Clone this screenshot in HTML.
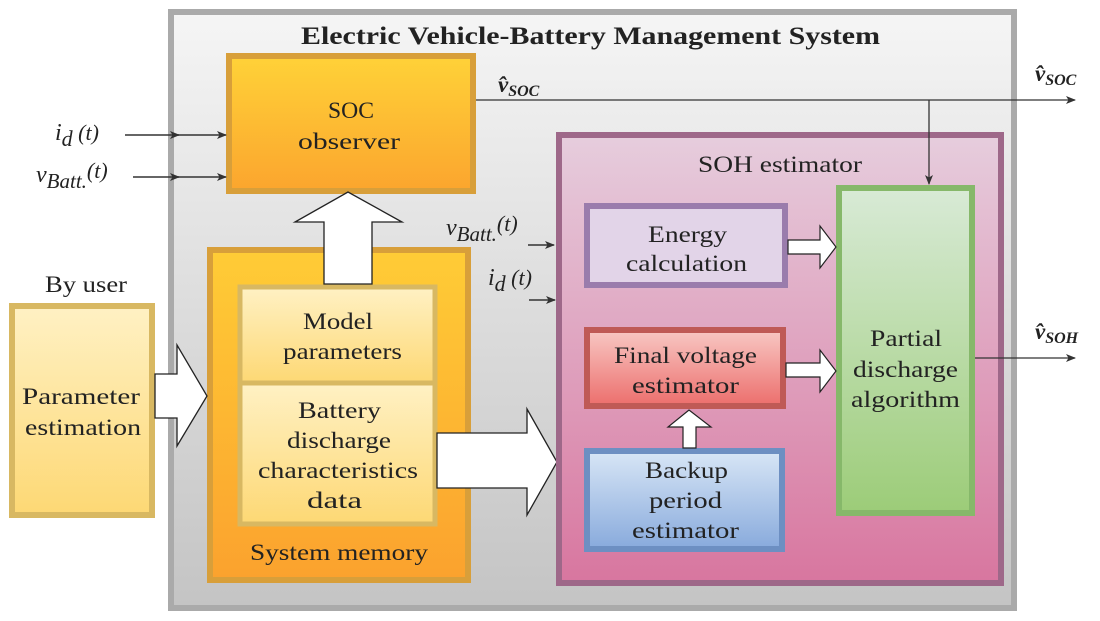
<!DOCTYPE html>
<html><head><meta charset="utf-8"><style>
html,body{margin:0;padding:0;background:#fff;}
svg{display:block;font-family:"Liberation Serif",serif;}
</style></head><body>
<svg width="1100" height="621" viewBox="0 0 1100 621" xmlns="http://www.w3.org/2000/svg">
<defs>
<linearGradient id="gOut" x1="0" y1="0" x2="0" y2="1"><stop offset="0" stop-color="#f5f5f5"/><stop offset="1" stop-color="#c4c4c4"/></linearGradient>
<linearGradient id="gSoc" x1="0" y1="0" x2="0" y2="1"><stop offset="0" stop-color="#ffd238"/><stop offset="1" stop-color="#fba52e"/></linearGradient>
<linearGradient id="gMem" x1="0" y1="0" x2="0" y2="1"><stop offset="0" stop-color="#ffcc36"/><stop offset="1" stop-color="#fba22e"/></linearGradient>
<linearGradient id="gPale" x1="0" y1="0" x2="0" y2="1"><stop offset="0" stop-color="#fff1c4"/><stop offset="1" stop-color="#fdd874"/></linearGradient>
<linearGradient id="gSoh" x1="0" y1="0" x2="0" y2="1"><stop offset="0" stop-color="#e6cddd"/><stop offset="1" stop-color="#d8769f"/></linearGradient>
<linearGradient id="gRed" x1="0" y1="0" x2="0" y2="1"><stop offset="0" stop-color="#f8c8c4"/><stop offset="1" stop-color="#ec6e6c"/></linearGradient>
<linearGradient id="gBlue" x1="0" y1="0" x2="0" y2="1"><stop offset="0" stop-color="#d8e6f6"/><stop offset="1" stop-color="#88aadc"/></linearGradient>
<linearGradient id="gGreen" x1="0" y1="0" x2="0" y2="1"><stop offset="0" stop-color="#d8ead6"/><stop offset="1" stop-color="#9ccc78"/></linearGradient>
<marker id="ah" markerWidth="10" markerHeight="8" refX="9" refY="4" orient="auto" markerUnits="userSpaceOnUse"><path d="M0,0 L10,4 L0,8 L2.5,4 z" fill="#333"/></marker>
</defs>

<g font-size="23" fill="#222" lengthAdjust="spacingAndGlyphs">
<!-- outer -->
<rect x="171" y="12" width="843" height="596" fill="url(#gOut)" stroke="#aaa" stroke-width="6"/>
<text x="301" y="44" font-size="25" font-weight="bold" textLength="579" lengthAdjust="spacingAndGlyphs">Electric Vehicle-Battery Management System</text>

<!-- SOC observer -->
<rect x="229" y="56" width="244" height="135" fill="url(#gSoc)" stroke="#d89f3a" stroke-width="6"/>
<text x="328" y="118" textLength="46" lengthAdjust="spacingAndGlyphs">SOC</text>
<text x="298" y="149" textLength="102" lengthAdjust="spacingAndGlyphs">observer</text>

<!-- inputs -->
<text x="55" y="140" font-size="24" font-style="italic">i<tspan font-size="22" dy="6">d</tspan><tspan dy="-6" font-size="22"> (t)</tspan></text>
<line x1="125" y1="135" x2="179" y2="135" stroke="#333" stroke-width="1.5" marker-end="url(#ah)"/>
<line x1="172" y1="135" x2="226" y2="135" stroke="#333" stroke-width="1.5" marker-end="url(#ah)"/>
<text x="36" y="182" font-size="24" font-style="italic">v<tspan font-size="21" dy="6">Batt.</tspan><tspan dy="-10" font-size="22">(t)</tspan></text>
<line x1="133" y1="177" x2="179" y2="177" stroke="#333" stroke-width="1.5" marker-end="url(#ah)"/>
<line x1="172" y1="177" x2="226" y2="177" stroke="#333" stroke-width="1.5" marker-end="url(#ah)"/>

<!-- System memory -->
<rect x="210" y="250" width="258" height="330" fill="url(#gMem)" stroke="#d89f3a" stroke-width="6"/>
<rect x="240" y="287" width="195" height="96" fill="url(#gPale)" stroke="#d8b862" stroke-width="5"/>
<text x="303" y="329" textLength="70" lengthAdjust="spacingAndGlyphs">Model</text>
<text x="283" y="359" textLength="119" lengthAdjust="spacingAndGlyphs">parameters</text>
<rect x="240" y="383" width="195" height="141" fill="url(#gPale)" stroke="#d8b862" stroke-width="5"/>
<text x="298" y="418" textLength="83" lengthAdjust="spacingAndGlyphs">Battery</text>
<text x="287" y="448" textLength="104" lengthAdjust="spacingAndGlyphs">discharge</text>
<text x="258" y="478" textLength="160" lengthAdjust="spacingAndGlyphs">characteristics</text>
<text x="307" y="508" textLength="55" lengthAdjust="spacingAndGlyphs">data</text>
<text x="250" y="560" textLength="178" lengthAdjust="spacingAndGlyphs">System memory</text>

<!-- up arrow memory -> SOC -->
<path d="M324,284 L324,222 L295,222 L348,192 L402,222 L372,222 L372,284 Z" fill="#fff" stroke="#222" stroke-width="1.3"/>

<!-- By user / parameter estimation -->
<text x="45" y="292" textLength="82" lengthAdjust="spacingAndGlyphs">By user</text>
<rect x="12" y="306" width="140" height="209" fill="url(#gPale)" stroke="#d8b862" stroke-width="6"/>
<text x="22" y="404" textLength="118" lengthAdjust="spacingAndGlyphs">Parameter</text>
<text x="25" y="435" textLength="116" lengthAdjust="spacingAndGlyphs">estimation</text>
<path d="M155,374 L177,374 L177,345 L207,396 L177,446 L177,418 L155,418 Z" fill="#fff" stroke="#222" stroke-width="1.3"/>

<!-- memory -> SOH arrow -->
<path d="M437,433 L527,433 L527,409 L557,462 L527,515 L527,488 L437,488 Z" fill="#fff" stroke="#222" stroke-width="1.3"/>

<!-- SOH estimator -->
<rect x="559" y="135" width="442" height="448" fill="url(#gSoh)" stroke="#9e6889" stroke-width="6"/>
<text x="698" y="172" textLength="164" lengthAdjust="spacingAndGlyphs">SOH estimator</text>
<text x="446" y="235" font-size="24" font-style="italic">v<tspan font-size="21" dy="6">Batt.</tspan><tspan dy="-10" font-size="22">(t)</tspan></text>
<line x1="528" y1="245" x2="554" y2="245" stroke="#333" stroke-width="1.5" marker-end="url(#ah)"/>
<text x="488" y="285" font-size="24" font-style="italic">i<tspan font-size="22" dy="6">d</tspan><tspan dy="-6" font-size="22"> (t)</tspan></text>
<line x1="529" y1="300" x2="555" y2="300" stroke="#333" stroke-width="1.5" marker-end="url(#ah)"/>

<rect x="587" y="206" width="198" height="79" fill="#e2d4e8" stroke="#9a7cac" stroke-width="6"/>
<text x="648" y="242" textLength="79" lengthAdjust="spacingAndGlyphs">Energy</text>
<text x="626" y="271" textLength="121" lengthAdjust="spacingAndGlyphs">calculation</text>

<rect x="587" y="330" width="196" height="76" fill="url(#gRed)" stroke="#bf5a56" stroke-width="6"/>
<text x="614" y="363" textLength="143" lengthAdjust="spacingAndGlyphs">Final voltage</text>
<text x="632" y="393" textLength="107" lengthAdjust="spacingAndGlyphs">estimator</text>

<rect x="587" y="451" width="195" height="98" fill="url(#gBlue)" stroke="#6d8fc2" stroke-width="6"/>
<text x="645" y="478" textLength="83" lengthAdjust="spacingAndGlyphs">Backup</text>
<text x="649" y="508" textLength="73" lengthAdjust="spacingAndGlyphs">period</text>
<text x="632" y="538" textLength="107" lengthAdjust="spacingAndGlyphs">estimator</text>

<path d="M683,448 L683,427 L668,427 L689,410 L711,427 L696,427 L696,448 Z" fill="#fff" stroke="#222" stroke-width="1.2"/>

<rect x="839" y="188" width="133" height="325" fill="url(#gGreen)" stroke="#86b86a" stroke-width="6"/>
<text x="870" y="346" textLength="72" lengthAdjust="spacingAndGlyphs">Partial</text>
<text x="853" y="377" textLength="105" lengthAdjust="spacingAndGlyphs">discharge</text>
<text x="851" y="407" textLength="109" lengthAdjust="spacingAndGlyphs">algorithm</text>

<path d="M788,240 L820,240 L820,226 L836,247 L820,268 L820,254 L788,254 Z" fill="#fff" stroke="#222" stroke-width="1.2"/>
<path d="M786,363 L820,363 L820,350 L836,371 L820,392 L820,377 L786,377 Z" fill="#fff" stroke="#222" stroke-width="1.2"/>

<!-- SOC output line -->
<line x1="476" y1="100" x2="1075" y2="100" stroke="#333" stroke-width="1.3" marker-end="url(#ah)"/>
<line x1="929" y1="100" x2="929" y2="184" stroke="#333" stroke-width="1.3" marker-end="url(#ah)"/>
<text x="498" y="92" font-size="23" font-weight="bold" font-style="italic">v̂<tspan font-size="16" dy="4">SOC</tspan></text>
<text x="1035" y="81" font-size="23" font-weight="bold" font-style="italic">v̂<tspan font-size="16" dy="4">SOC</tspan></text>

<!-- SOH output -->
<line x1="975" y1="358" x2="1075" y2="358" stroke="#333" stroke-width="1.3" marker-end="url(#ah)"/>
<text x="1035" y="339" font-size="23" font-weight="bold" font-style="italic">v̂<tspan font-size="16" dy="4">SOH</tspan></text>
</g>
</svg>
</body></html>
